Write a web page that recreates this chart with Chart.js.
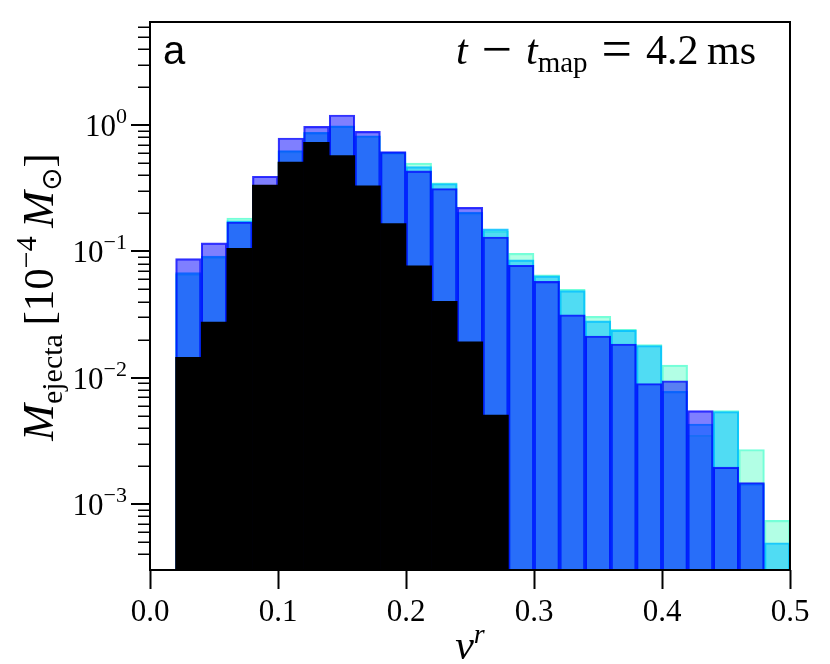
<!DOCTYPE html>
<html>
<head>
<meta charset="utf-8">
<script src="https://cdn.jsdelivr.net/npm/chart.js@4.4.1/dist/chart.umd.min.js"></script>
<style>
  html, body { margin: 0; padding: 0; background: #fff; }
  canvas { display: block; }
</style>
</head>
<body>
<canvas id="grafico" width="830" height="664"></canvas>
<script>
const binLeft = [0.02, 0.04, 0.06, 0.08, 0.10, 0.12, 0.14, 0.16, 0.18, 0.20, 0.22, 0.24,
                 0.26, 0.28, 0.30, 0.32, 0.34, 0.36, 0.38, 0.40, 0.42, 0.44, 0.46, 0.48];
const binWidth = 0.02;

// masa eyectada [1e-4 Msun] por bin
const aquaMass = [0.066, 0.090, 0.184, 0.32, 0.62, 0.87, 0.98, 0.82, 0.60, 0.501, 0.350, 0.200,
                  0.145, 0.0965, 0.0653, 0.0500, 0.0306, 0.0242, 0.0183, 0.01257, 0.0035, 0.00549, 0.0027, 0.000741];
const skyMass  = [0.068, 0.092, 0.175, 0.33, 0.63, 0.877, 0.987, 0.824, 0.61, 0.469, 0.345, 0.205,
                  0.151, 0.0856, 0.064, 0.049, 0.0282, 0.0238, 0.0180, 0.0078, 0.0043, 0.0054, 0.00145, 0.000493];
const blueMass = [0.0877, 0.117, 0.171, 0.394, 0.791, 0.977, 1.204, 0.893, 0.618, 0.434, 0.315, 0.223,
                  0.130, 0.0777, 0.0579, 0.0315, 0.0214, 0.0185, 0.00899, 0.00946, 0.00549, 0.00196, 0.00148, null];
const blackMass = [0.0145, 0.0276, 0.106, 0.335, 0.51, 0.732, 0.575, 0.331, 0.166, 0.0769, 0.0402, 0.0192,
                   0.00505, null, null, null, null, null, null, null, null, null, null, null];

// --- EJES ---
const xMin = 0, xMax = 0.5, xStep = 0.1;
const yMin = 3.334e-4, yMax = 6.56;
const yMajorTicks = [1, 0.1, 0.01, 0.001];
const yMajorExp = ['0', '\u22121', '\u22122', '\u22123'];
const yMinorMult = [2, 3, 4, 5, 6, 7, 8, 9];
const yDecades = [1e-4, 1e-3, 1e-2, 1e-1, 1];

const serif = '"Liberation Serif", "DejaVu Serif", serif';

const toPoints = arr => arr.map((v, i) => ({ x: binLeft[i] + binWidth / 2, y: v }));

// dibuja una secuencia de trozos de texto con distinta fuente/desplazamiento
const runsWidth = (ctx, runs) => runs.reduce((w, r) => { ctx.font = r.font; return w + ctx.measureText(r.t).width; }, 0);
const drawRuns = (ctx, runs, x, y) => {
    let cx = x;
    runs.forEach(r => {
        ctx.font = r.font;
        ctx.fillText(r.t, cx, y + (r.dy || 0));
        cx += ctx.measureText(r.t).width;
    });
};

const decoracion = {
    id: 'decoracion',
    afterDraw(chart) {
        const { ctx, chartArea: a, scales } = chart;
        const ys = scales.y;
        ctx.save();
        ctx.fillStyle = '#000';
        ctx.strokeStyle = '#000';
        ctx.textBaseline = 'alphabetic';
        ctx.textAlign = 'left';

        // marco
        ctx.lineWidth = 2;
        ctx.strokeRect(a.left, a.top, a.right - a.left, a.bottom - a.top);

        // ticks menores del eje y
        ctx.lineWidth = 1.5;
        yDecades.forEach(d => yMinorMult.forEach(m => {
            const v = d * m;
            if (v < yMin || v > yMax) return;
            const py = Math.round(ys.getPixelForValue(v)) + 0.25;
            ctx.beginPath();
            ctx.moveTo(a.left - 12, py);
            ctx.lineTo(a.left, py);
            ctx.stroke();
        }));
        // ticks mayores y etiquetas
        ctx.lineWidth = 2;
        yMajorTicks.forEach((v, i) => {
            const py = Math.round(ys.getPixelForValue(v));
            ctx.beginPath();
            ctx.moveTo(a.left - 19, py);
            ctx.lineTo(a.left, py);
            ctx.stroke();
            const runs = [
                { t: '10', font: `31px ${serif}` },
                { t: yMajorExp[i], font: `22px ${serif}`, dy: -13 }
            ];
            drawRuns(ctx, runs, 127 - runsWidth(ctx, runs), py + 11);
        });

        // etiqueta eje y (rotada)
        const yRuns = [
            { t: 'M', font: `italic 44px ${serif}` },
            { t: 'ejecta', font: `30px ${serif}`, dy: 9 },
            { t: '\u2009[10', font: `43px ${serif}` },
            { t: '\u22124', font: `30px ${serif}`, dy: -17 },
            { t: '\u2009', font: `43px ${serif}` },
            { t: 'M', font: `italic 44px ${serif}` },
            { t: '\u2299', font: `28px "DejaVu Sans", sans-serif`, dy: 8 },
            { t: ']', font: `43px ${serif}` }
        ];
        ctx.save();
        ctx.translate(53, 297);
        ctx.rotate(-Math.PI / 2);
        drawRuns(ctx, yRuns, -runsWidth(ctx, yRuns) / 2, 0);
        ctx.restore();

        // etiqueta eje x
        const xRuns = [
            { t: 'v', font: `italic 42px ${serif}` },
            { t: 'r', font: `italic 28px ${serif}`, dy: -16 }
        ];
        drawRuns(ctx, xRuns, 470 - runsWidth(ctx, xRuns) / 2, 659);

        // título dentro del panel
        const tRuns = [
            { t: 't', font: `italic 42px ${serif}` },
            { t: '\u2004', font: `42px ${serif}` },
            { t: '\u2212', font: `54px ${serif}`, dy: 3 },
            { t: '\u2004', font: `42px ${serif}` },
            { t: 't', font: `italic 42px ${serif}` },
            { t: 'map', font: `29px ${serif}`, dy: 8 },
            { t: '\u2004', font: `42px ${serif}` },
            { t: '=', font: `54px ${serif}`, dy: 3 },
            { t: '\u20044.2\u2009ms', font: `42px ${serif}` }
        ];
        drawRuns(ctx, tRuns, 756 - runsWidth(ctx, tRuns), 64);

        // letra del panel
        ctx.font = '40px "Liberation Sans", Arial, sans-serif';
        ctx.fillText('a', 163, 64);
        ctx.restore();
    }
};

const barBase = { barPercentage: 1, categoryPercentage: 1, borderWidth: 1.5, borderSkipped: 'start' };

new Chart(document.getElementById('grafico'), {
    type: 'bar',
    data: {
        datasets: [
            { ...barBase, label: 'aquamarine', data: toPoints(aquaMass), order: 3,
              backgroundColor: 'rgba(127,255,212,0.6)', borderColor: 'rgba(90,255,210,0.85)' },
            { ...barBase, label: 'deepskyblue', data: toPoints(skyMass), order: 2,
              backgroundColor: 'rgba(0,191,255,0.55)', borderColor: 'rgba(0,191,255,0.85)' },
            { ...barBase, label: 'blue', data: toPoints(blueMass), order: 1,
              backgroundColor: 'rgba(0,0,255,0.5)', borderColor: 'rgba(0,0,255,0.8)' },
            { ...barBase, label: 'black', data: toPoints(blackMass), order: 0,
              backgroundColor: '#000', borderWidth: 0 }
        ]
    },
    options: {
        responsive: false,
        animation: false,
        datasets: { bar: { grouped: false } },
        layout: { padding: { left: 0, right: 40, top: 22, bottom: 0 } },
        plugins: { legend: { display: false }, tooltip: { enabled: false } },
        scales: {
            x: {
                type: 'linear', min: xMin, max: xMax, offset: false,
                grid: { drawOnChartArea: false, drawTicks: true, tickLength: 19, tickWidth: 2, tickColor: '#000', offset: false },
                border: { display: false },
                ticks: { stepSize: xStep, autoSkip: false, maxRotation: 0, padding: 5, color: '#000',
                         font: { family: serif, size: 31 }, callback: v => v.toFixed(1) },
                afterFit: s => { s.height = 94; }
            },
            y: {
                type: 'logarithmic', min: yMin, max: yMax,
                grid: { display: false },
                border: { display: false },
                ticks: { display: false },
                afterFit: s => { s.width = 150; }
            }
        }
    },
    plugins: [decoracion]
});
</script>
</body>
</html>
